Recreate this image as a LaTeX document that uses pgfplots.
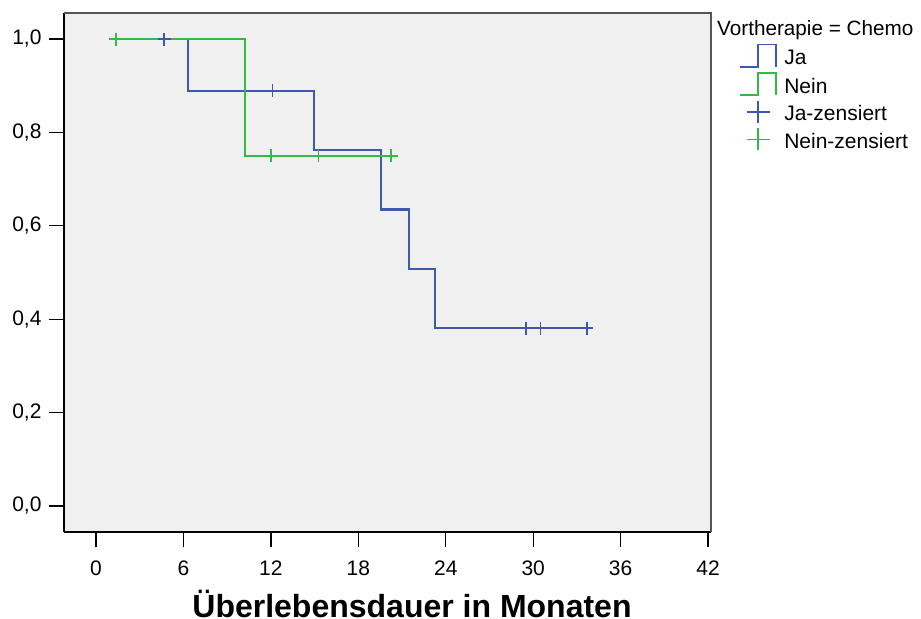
\documentclass[border=0pt]{standalone}
\usepackage{fontspec}
\setmainfont{Liberation Sans}
\usepackage{pgfplots}
\pgfplotsset{compat=1.18}
\definecolor{kmblue}{RGB}{62,88,172}
\definecolor{kmgreen}{RGB}{50,185,70}
\definecolor{bgc}{RGB}{240,240,240}
\definecolor{framec}{RGB}{85,85,85}
\pgfplotsset{
  steplegend/.style={legend image code/.code={\path (0bp,0bp) (44bp,0bp); \draw[##1, line width=1.8bp] (0bp,-8.7bp) -- (18bp,-8.7bp) -- (18bp,13.7bp) -- (36bp,13.7bp) -- (36bp,-8.7bp);}},
  pluslegend/.style={legend image code/.code={\path (0bp,0bp) (44bp,0bp); \draw[##1, line width=1.6bp] (6.7bp,2.3bp) -- (30bp,2.3bp) (18bp,-8.7bp) -- (18bp,13.3bp);}},
}
\begin{document}
\begin{tikzpicture}
\useasboundingbox (0,0) rectangle (921bp,619bp);
\begin{axis}[
  at={(64bp,87bp)}, anchor=south west,
  scale only axis, width=647bp, height=519bp,
  xmin=-2.196, xmax=42.2, ymin=-0.0557, ymax=1.0557,
  axis lines*=left,
  axis line style={black, line width=2bp, -},
  axis background/.style={fill=bgc},
  xtick={0,6,...,42}, ytick={0,0.2,0.4,0.6,0.8,1.0},
  tick align=outside, major tick length=15bp,
  tick style={black, line width=1.3bp},
  minor tick num=0,
  /pgf/number format/assume math mode=true,
  ticklabel style={font=\fontsize{21bp}{25bp}\selectfont},
  xticklabel style={yshift=-10bp},
  yticklabel style={xshift=-4bp, /pgf/number format/.cd, fixed, fixed zerofill, precision=1, use comma},
  xlabel={Überlebensdauer in Monaten},
  xlabel style={font=\fontsize{32bp}{37bp}\selectfont\bfseries, xshift=24.5bp, yshift=-8bp},
  clip=false,
  legend style={at={(rel axis cs:1.0433,0.9416)}, anchor=north west, draw=none, fill=none,
    inner sep=0pt, row sep=4bp, font=\fontsize{21bp}{25bp}\selectfont,
    nodes={inner sep=0pt}},
  legend cell align=left,
]
\addplot[kmblue, line width=2.1bp, const plot, forget plot] coordinates {
  (4.67,1) (6.34,0.889) (14.96,0.762) (19.54,0.635) (21.5,0.508) (23.27,0.381) (33.68,0.381)};
\addplot[kmblue, only marks, mark=+, mark size=6.5bp, mark options={line width=1.7bp}, forget plot] coordinates {
  (4.67,1) (12.12,0.889) (29.49,0.381) (30.5,0.381) (33.68,0.381)};
\addplot[kmgreen, line width=2.1bp, const plot, forget plot] coordinates {
  (1.35,1) (10.25,0.75) (20.25,0.75)};
\addplot[kmgreen, only marks, mark=+, mark size=6.5bp, mark options={line width=1.7bp}, forget plot] coordinates {
  (1.35,1) (11.99,0.75) (15.26,0.75) (20.25,0.75)};
\draw[framec, line width=1.3bp] (rel axis cs:0,1) -- (rel axis cs:1,1) -- (rel axis cs:1,0);
\addlegendimage{kmblue, steplegend}
\addlegendentry{Ja}
\addlegendimage{kmgreen, steplegend}
\addlegendentry{Nein}
\addlegendimage{kmblue, pluslegend}
\addlegendentry{Ja-zensiert}
\addlegendimage{kmgreen, pluslegend}
\addlegendentry{Nein-zensiert}
\node[anchor=base west, inner sep=0pt, font=\fontsize{20.7bp}{25bp}\selectfont] at (rel axis cs:1.0093,0.9576) {Vortherapie = Chemo};
\end{axis}
\end{tikzpicture}
\end{document}
